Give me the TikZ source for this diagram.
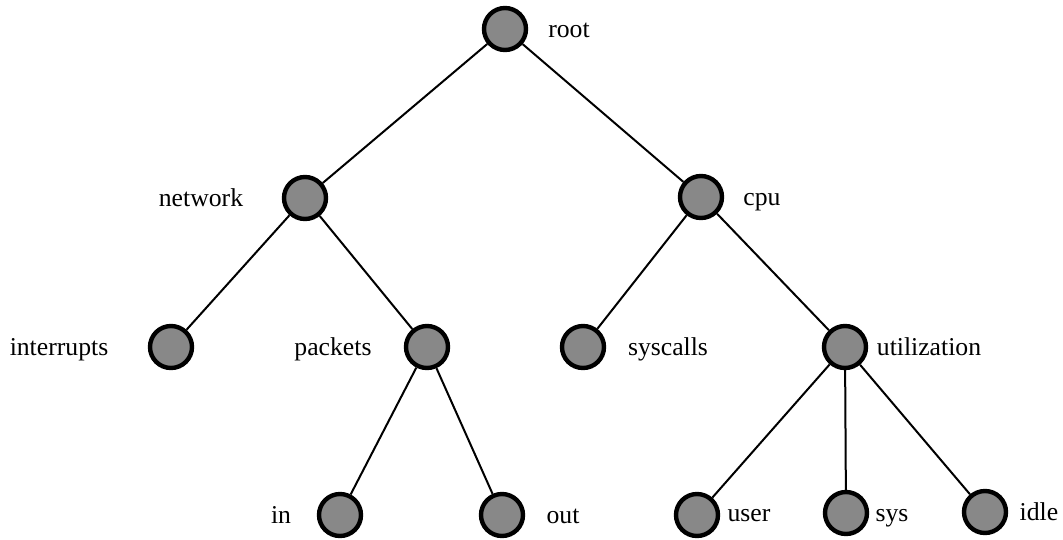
\documentclass[tikz,border=0pt]{standalone}
\usepackage{fontspec}
\setmainfont{Liberation Serif}
\begin{document}
\begin{tikzpicture}[x=1pt,y=-1pt,
  vert/.style={circle,draw=black,line width=4.4pt,fill=nodegray,minimum size=42pt,inner sep=0pt},
  lbl/.style={anchor=base,font=\fontsize{25.7}{30}\selectfont,inner sep=0pt},
  edge/.style={line width=2pt,black}]
\definecolor{nodegray}{HTML}{888888}
\useasboundingbox (0,0) rectangle (1063,539);
\node[vert] (root) at (505,29) {};
\node[vert] (network) at (305,198) {};
\node[vert] (cpu) at (701,197) {};
\node[vert] (interrupts) at (171,347) {};
\node[vert] (packets) at (427,347) {};
\node[vert] (syscalls) at (583,347) {};
\node[vert] (utilization) at (845,347) {};
\node[vert] (in) at (340,515) {};
\node[vert] (out) at (502,515) {};
\node[vert] (user) at (697,515) {};
\node[vert] (sys) at (846,513) {};
\node[vert] (idle) at (985,512) {};
\node[lbl] (lroot) at (569,37) {root};
\node[lbl] (lnetwork) at (201,206) {network};
\node[lbl] (lcpu) at (762,205) {cpu};
\node[lbl] (linterrupts) at (59,355) {interrupts};
\node[lbl] (lpackets) at (333,355) {packets};
\node[lbl] (lsyscalls) at (668,355) {syscalls};
\node[lbl] (lutilization) at (929,355) {utilization};
\node[lbl] (lin) at (281,523) {in};
\node[lbl] (lout) at (563,523) {out};
\node[lbl] (luser) at (749,521) {user};
\node[lbl] (lsys) at (892,521) {sys};
\node[lbl] (lidle) at (1039,520) {idle};
\draw[edge] (root) -- (network);
\draw[edge] (root) -- (cpu);
\draw[edge] (network) -- (interrupts);
\draw[edge] (network) -- (packets);
\draw[edge] (cpu) -- (syscalls);
\draw[edge] (cpu) -- (utilization);
\draw[edge] (packets) -- (in);
\draw[edge] (packets) -- (out);
\draw[edge] (utilization) -- (user);
\draw[edge] (utilization) -- (sys);
\draw[edge] (utilization) -- (idle);
\end{tikzpicture}
\end{document}
